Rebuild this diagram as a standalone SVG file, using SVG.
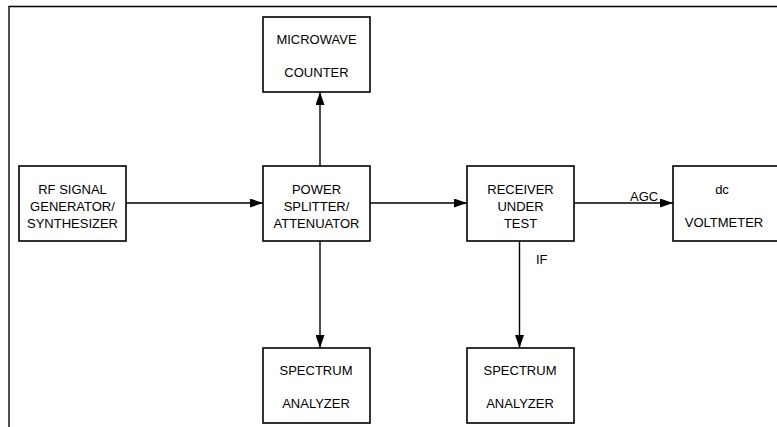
<svg xmlns="http://www.w3.org/2000/svg" width="777" height="427" viewBox="0 0 777 427">
  <defs>
    <marker id="arr" markerUnits="userSpaceOnUse" markerWidth="13" markerHeight="9" refX="13" refY="4.5" orient="auto">
      <path d="M0,0 L13,4.5 L0,9 z" fill="#000"/>
    </marker>
    <style>
      .box { fill: #fff; stroke: #000; stroke-width: 1.6; }
      .t { font-family: "Liberation Sans", Arial, sans-serif; font-size: 13px; fill: #000; text-anchor: middle; }
      .lbl { font-family: "Liberation Sans", Arial, sans-serif; font-size: 13px; fill: #000; }
      .c { fill: none; stroke: #000; stroke-width: 1.4; marker-end: url(#arr); }
      .frame { fill: none; stroke: #000; stroke-width: 1.4; }
    </style>
  </defs>
  <rect width="777" height="427" fill="#fff"/>
  <path class="frame" d="M9,427 L9,6.5 L777,6.5"/>

  <g id="connectors">
    <line class="c" x1="126" y1="203" x2="263" y2="203"/>
    <line class="c" x1="320" y1="166" x2="320" y2="92"/>
    <line class="c" x1="320" y1="241" x2="320" y2="348"/>
    <line class="c" x1="370" y1="203" x2="467" y2="203"/>
    <line class="c" x1="574" y1="203" x2="673" y2="203"/>
    <line class="c" x1="519.5" y1="241" x2="519.5" y2="348"/>
    <text class="lbl" x="630" y="201">AGC</text>
    <text class="lbl" x="536" y="264">IF</text>
  </g>

  <g id="rf-generator">
    <rect class="box" x="19" y="166" width="107" height="75"/>
    <text class="t" x="72.5" y="194">RF SIGNAL</text>
    <text class="t" x="72.5" y="211">GENERATOR/</text>
    <text class="t" x="72.5" y="228">SYNTHESIZER</text>
  </g>

  <g id="microwave-counter">
    <rect class="box" x="263" y="17" width="107" height="75"/>
    <text class="t" x="316.5" y="44">MICROWAVE</text>
    <text class="t" x="316.5" y="77">COUNTER</text>
  </g>

  <g id="power-splitter">
    <rect class="box" x="263" y="166" width="107" height="75"/>
    <text class="t" x="316.5" y="194">POWER</text>
    <text class="t" x="316.5" y="211">SPLITTER/</text>
    <text class="t" x="316.5" y="228">ATTENUATOR</text>
  </g>

  <g id="receiver">
    <rect class="box" x="467" y="166" width="107" height="75"/>
    <text class="t" x="520.5" y="194">RECEIVER</text>
    <text class="t" x="520.5" y="211">UNDER</text>
    <text class="t" x="520.5" y="228">TEST</text>
  </g>

  <g id="dc-voltmeter">
    <rect class="box" x="673" y="166" width="110" height="75"/>
    <text class="t" x="722" y="194">dc</text>
    <text class="t" x="724" y="227">VOLTMETER</text>
  </g>

  <g id="spectrum-analyzer-1">
    <rect class="box" x="263" y="348" width="107" height="75"/>
    <text class="t" x="316" y="375">SPECTRUM</text>
    <text class="t" x="316" y="408">ANALYZER</text>
  </g>

  <g id="spectrum-analyzer-2">
    <rect class="box" x="467" y="348" width="107" height="75"/>
    <text class="t" x="520" y="375">SPECTRUM</text>
    <text class="t" x="520" y="408">ANALYZER</text>
  </g>
</svg>
